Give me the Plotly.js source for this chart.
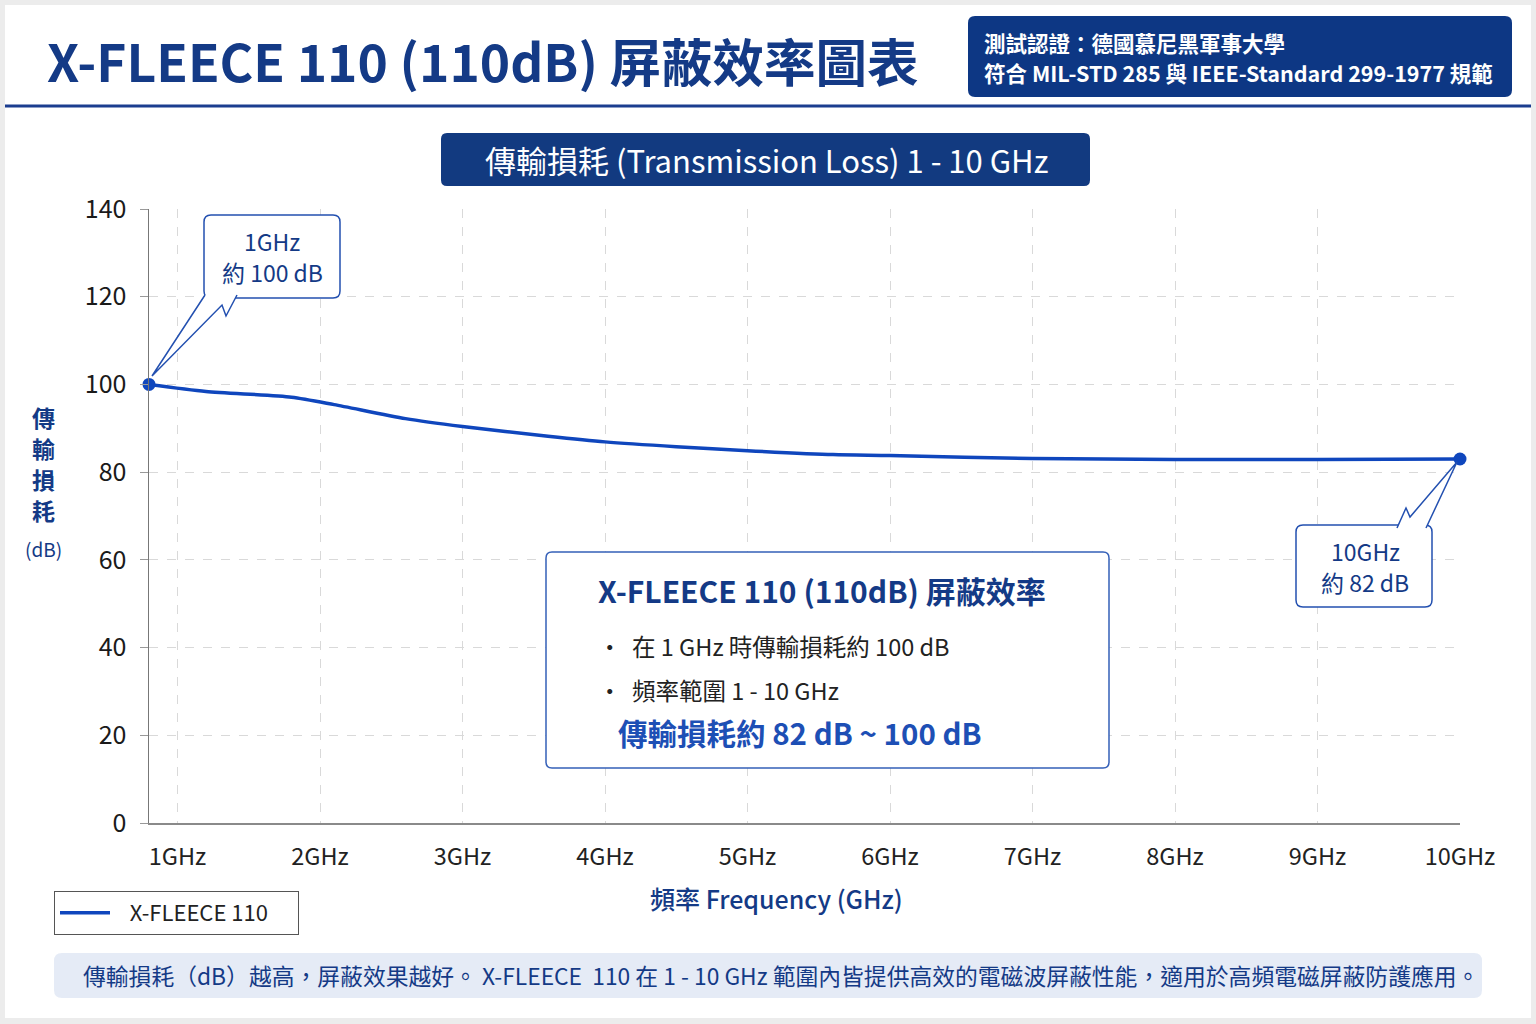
<!DOCTYPE html>
<html>
<head>
<meta charset="utf-8">
<script src="https://cdn.plot.ly/plotly-3.0.1.min.js"></script>
<style>
  body { margin: 0; background: #ececec; }
  #chart { width: 1536px; height: 1024px; }
</style>
</head>
<body>
<div id="chart"></div>
<script>
// positions (GHz) and transmission loss (dB)
var freq = [0.8, 1.2, 1.8, 2.1, 2.6, 3.0, 3.6, 4.0, 4.5, 5.0, 5.6, 6.0, 7.0, 8.0, 9.0, 10.0];
var loss = [100, 98.4, 97.1, 95.4, 92.2, 90.4, 88.2, 86.9, 85.8, 84.9, 84.0, 83.8, 83.1, 82.9, 82.9, 83.0];
var tickGHz = [1, 2, 3, 4, 5, 6, 7, 8, 9, 10];
var tickText = tickGHz.map(function (g) { return g + 'GHz'; });
var yTicks = [0, 20, 40, 60, 80, 100, 120, 140];

var FONT = "'Noto Sans CJK TC', 'Noto Sans', sans-serif";
var NAVY = '#143a86';
var BLUE = '#0f46bd';

// plot area in pixels, used to place decorations in paper units
var L = 149, R = 1460, T = 209, B = 823;
function X(px) { return (px - L) / (R - L); }
function Y(py) { return (B - py) / (B - T); }

function rrect(x0, y0, x1, y1, r) {
    return 'M' + X(x0 + r) + ',' + Y(y0) +
        ' L' + X(x1 - r) + ',' + Y(y0) +
        ' Q' + X(x1) + ',' + Y(y0) + ' ' + X(x1) + ',' + Y(y0 + r) +
        ' L' + X(x1) + ',' + Y(y1 - r) +
        ' Q' + X(x1) + ',' + Y(y1) + ' ' + X(x1 - r) + ',' + Y(y1) +
        ' L' + X(x0 + r) + ',' + Y(y1) +
        ' Q' + X(x0) + ',' + Y(y1) + ' ' + X(x0) + ',' + Y(y1 - r) +
        ' L' + X(x0) + ',' + Y(y0 + r) +
        ' Q' + X(x0) + ',' + Y(y0) + ' ' + X(x0 + r) + ',' + Y(y0) + ' Z';
}
function poly(pts) {
    return pts.map(function (p, i) { return (i ? ' L' : 'M') + X(p[0]) + ',' + Y(p[1]); }).join('');
}
function box(path, fill, line, width, layer) {
    return {type: 'path', xref: 'paper', yref: 'paper', path: path, fillcolor: fill,
        line: {color: line, width: width}, layer: layer || 'above'};
}
function label(px, py, text, size, color, opts) {
    opts = opts || {};
    return {xref: 'paper', yref: 'paper', x: X(px), y: Y(py), text: text, showarrow: false,
        xanchor: opts.xanchor || 'center', yanchor: 'middle', align: opts.align || 'center',
        borderpad: 0,
        font: {family: FONT, size: size, color: color, weight: opts.weight || 'normal'}};
}

var line = {
    x: freq, y: loss, name: '\u00a0\u00a0\u00a0X-FLEECE 110\u00a0\u00a0\u00a0\u00a0\u00a0', type: 'scatter', mode: 'lines',
    line: {color: BLUE, width: 3.5, shape: 'spline', smoothing: 0.7},
    hoverinfo: 'skip'
};
var ends = {
    x: [freq[0], freq[freq.length - 1]], y: [loss[0], loss[loss.length - 1]],
    type: 'scatter', mode: 'markers', showlegend: false, cliponaxis: false,
    marker: {color: BLUE, size: 13}, hoverinfo: 'skip'
};

var shapes = [
    box('M' + X(5) + ',' + Y(5) + ' L' + X(1531) + ',' + Y(5) + ' L' + X(1531) + ',' + Y(1018) + ' L' + X(5) + ',' + Y(1018) + ' Z', '#ffffff', '#ffffff', 0, 'below'),
    {type: 'line', xref: 'paper', yref: 'paper', x0: X(5), x1: X(1531), y0: Y(106), y1: Y(106), line: {color: '#1b3d8f', width: 3}},
    box(rrect(968, 16, 1512, 97, 7), '#0d3784', '#0d3784', 0),
    box(rrect(441, 133, 1090, 186, 6), '#123a80', '#123a80', 0),
    // callout 1 GHz
    box(rrect(204, 215, 340, 298, 7), '#ffffff', '#2350b0', 1.5),
    box(poly([[205, 295], [152, 376], [222, 305], [226, 316], [237, 295]]), '#ffffff', '#2350b0', 1.5),
    // callout 10 GHz
    box(rrect(1296, 525, 1432, 607, 7), '#ffffff', '#2350b0', 1.5),
    box(poly([[1397, 528], [1406, 508], [1410, 517], [1457, 462], [1426, 528]]), '#ffffff', '#2350b0', 1.5),
    // summary box
    box(rrect(546, 552, 1109, 768, 6), '#ffffff', '#3560b8', 1.5),
    // footer band
    box(rrect(54, 953, 1482, 998, 8), '#e5ebf6', '#e5ebf6', 0)
];

var annotations = [
    label(46, 60, 'X-FLEECE 110 (110dB) 屏蔽效率圖表', 51.5, NAVY, {xanchor: 'left', weight: 'bold'}),
    label(983, 42, '測試認證：德國慕尼黑軍事大學', 21.5, '#ffffff', {xanchor: 'left', weight: 600}),
    label(983, 73, '符合 MIL-STD 285 與 IEEE-Standard 299-1977 規範', 21.5, '#ffffff', {xanchor: 'left', weight: 600}),
    label(766, 160, '傳輸損耗 (Transmission Loss) 1 - 10 GHz', 31, '#ffffff', {weight: 'normal'}),
    label(43, 417, '傳', 23, NAVY, {weight: 'bold'}),
    label(43, 448, '輸', 23, NAVY, {weight: 'bold'}),
    label(43, 479, '損', 23, NAVY, {weight: 'bold'}),
    label(43, 510, '耗', 23, NAVY, {weight: 'bold'}),
    label(44, 548, '(dB)', 19, NAVY, {weight: 'normal'}),
    label(272, 241, '1GHz', 23, NAVY),
    label(272, 272, '約 100 dB', 23, NAVY),
    label(1365, 551, '10GHz', 23, NAVY),
    label(1365, 582, '約 82 dB', 23, NAVY),
    label(597, 590, 'X-FLEECE 110 (110dB) 屏蔽效率', 30, NAVY, {xanchor: 'left', weight: 600}),
    label(597, 646, '•  在 1 GHz 時傳輸損耗約 100 dB', 23.5, '#222222', {xanchor: 'left'}),
    label(597, 690, '•  頻率範圍 1 - 10 GHz', 23.5, '#222222', {xanchor: 'left'}),
    label(617, 732, '傳輸損耗約 82 dB ~ 100 dB', 29.5, '#1d4fb5', {xanchor: 'left', weight: 600}),
    label(776, 898, '頻率 Frequency (GHz)', 25, NAVY, {weight: 500}),
    label(82, 976, '傳輸損耗（dB）越高，屏蔽效果越好。 X-FLEECE  110 在 1 - 10 GHz 範圍內皆提供高效的電磁波屏蔽性能，適用於高頻電磁屏蔽防護應用。', 22.8, NAVY, {xanchor: 'left'})
];

var layout = {
    width: 1536, height: 1024, autosize: false,
    margin: {l: L, r: 1536 - R, t: T, b: 1024 - B, pad: 0},
    paper_bgcolor: '#ececec', plot_bgcolor: '#ffffff',
    font: {family: FONT, color: '#222222'},
    showlegend: true,
    legend: {x: X(54), y: Y(891), xanchor: 'left', yanchor: 'top', bgcolor: '#ffffff',
        bordercolor: '#555555', borderwidth: 1, font: {family: FONT, size: 22, color: '#222222'},
        itemwidth: 50},
    xaxis: {
        range: [0.8, 10], tickvals: tickGHz, ticktext: tickText,
        showgrid: true, gridcolor: '#d9d9d9', griddash: 'dash', gridwidth: 1,
        zeroline: false, showline: true, linecolor: '#8a8a8a', linewidth: 1.5,
        ticks: '', ticklabelstandoff: 12, tickfont: {family: FONT, size: 23.5, color: '#222222'},
        fixedrange: true
    },
    yaxis: {
        range: [0, 140], tickvals: yTicks,
        showgrid: true, gridcolor: '#d9d9d9', griddash: 'dash', gridwidth: 1,
        zeroline: false, showline: true, linecolor: '#777777', linewidth: 1.5,
        ticks: 'outside', ticklen: 8, tickcolor: '#999999', ticklabelstandoff: 8,
        tickfont: {family: FONT, size: 25, color: '#1a1a1a'},
        fixedrange: true
    },
    shapes: shapes,
    annotations: annotations
};

Plotly.newPlot('chart', [line, ends], layout, {displayModeBar: false, staticPlot: true});
</script>
</body>
</html>
